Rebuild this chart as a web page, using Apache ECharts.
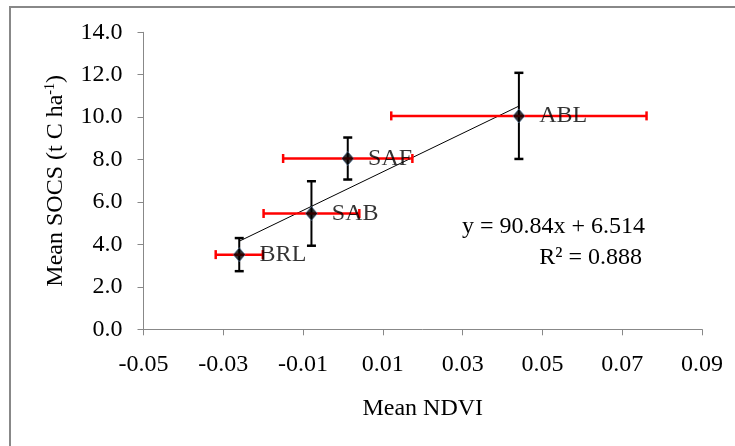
<!DOCTYPE html>
<html>
<head>
<meta charset="utf-8">
<script src="https://cdn.jsdelivr.net/npm/echarts@6/dist/echarts.min.js"></script>
<style>html,body{margin:0;padding:0;background:#fff}#c{width:735px;height:446px}</style>
</head>
<body>
<div id="c"></div>
<script>
// ---- data ----
const siteNames = ['BRL', 'SAB', 'SAF', 'ABL'];
const meanNdvi  = [-0.0260, -0.0079, 0.0012, 0.0441];
const meanSocs  = [3.52, 5.46, 8.05, 10.06];
const socsErr   = [0.78, 1.52, 0.99, 2.03];
const ndviErr   = [0.0059, 0.0120, 0.0162, 0.0320];
const trendX    = [-0.0258, 0.0442];
const trendY    = [4.17, 10.53];
const xTicks    = [-0.05, -0.03, -0.01, 0.01, 0.03, 0.05, 0.07, 0.09];
const eqText    = 'y = 90.84x + 6.514';
const r2Text    = 'R\u00B2 = 0.888';

const FONT = '"Liberation Serif", "Times New Roman", serif';
const FS = 24;
const chart = echarts.init(document.getElementById('c'));

function vBars(params, api) {
  const x = api.value(0), y = api.value(1), e = api.value(2);
  const t = api.coord([x, y + e]), b = api.coord([x, y - e]);
  const c = 4.5;
  return {type: 'group', children: [
    {type: 'line', shape: {x1: t[0], y1: t[1], x2: b[0], y2: b[1]}, style: {stroke: '#000', lineWidth: 2}},
    {type: 'line', shape: {x1: t[0] - c, y1: t[1], x2: t[0] + c, y2: t[1]}, style: {stroke: '#000', lineWidth: 2.5}},
    {type: 'line', shape: {x1: b[0] - c, y1: b[1], x2: b[0] + c, y2: b[1]}, style: {stroke: '#000', lineWidth: 2.5}}
  ]};
}
function hBars(params, api) {
  const x = api.value(0), y = api.value(1), e = api.value(2);
  const l = api.coord([x - e, y]), r = api.coord([x + e, y]);
  const c = 4.5, st = {stroke: '#ff0000', lineWidth: 2.5};
  return {type: 'group', children: [
    {type: 'line', shape: {x1: l[0], y1: l[1], x2: r[0], y2: r[1]}, style: st},
    {type: 'line', shape: {x1: l[0], y1: l[1] - c, x2: l[0], y2: l[1] + c}, style: st},
    {type: 'line', shape: {x1: r[0], y1: r[1] - c, x2: r[0], y2: r[1] + c}, style: st}
  ]};
}

const option = {
  animation: false,
  backgroundColor: '#fff',
  grid: {left: 143.5, right: 33, top: 32.3, bottom: 116.7, containLabel: false},
  xAxis: {
    type: 'value', min: -0.05, max: 0.09,
    name: 'Mean NDVI', nameLocation: 'middle', nameGap: 67,
    nameTextStyle: {fontFamily: FONT, fontSize: FS, color: '#000'},
    axisLine: {show: true, lineStyle: {color: '#888', width: 1}},
    axisTick: {show: true, length: 6, lineStyle: {color: '#888'}, customValues: xTicks},
    axisLabel: {fontFamily: FONT, fontSize: FS, color: '#000', margin: 23,
      customValues: xTicks, formatter: v => v.toFixed(2)},
    splitLine: {show: false}
  },
  yAxis: {
    type: 'value', min: 0, max: 14, interval: 2,
    name: 'Mean SOCS (t C ha{sup|-1})', nameLocation: 'middle', nameGap: 76, nameRotate: 90,
    nameTextStyle: {fontFamily: FONT, fontSize: FS, color: '#000',
      rich: {sup: {fontFamily: FONT, fontSize: 14, color: '#000', verticalAlign: 'top', lineHeight: 14, padding: [0, 0, 8, 0]}}},
    axisLine: {show: true, onZero: false, lineStyle: {color: '#888', width: 1}},
    axisTick: {show: true, length: 6, lineStyle: {color: '#888'}},
    axisLabel: {fontFamily: FONT, fontSize: FS, color: '#000', margin: 21,
      formatter: v => v.toFixed(1)},
    splitLine: {show: false}
  },
  series: [
    {type: 'line', data: trendX.map((x, i) => [x, trendY[i]]), symbol: 'none',
      lineStyle: {color: '#000', width: 1}, z: 2, silent: true},
    {type: 'custom', renderItem: vBars, data: meanNdvi.map((x, i) => [x, meanSocs[i], socsErr[i]]),
      encode: {x: 0, y: 1}, z: 3, silent: true, clip: false},
    {type: 'custom', renderItem: hBars, data: meanNdvi.map((x, i) => [x, meanSocs[i], ndviErr[i]]),
      encode: {x: 0, y: 1}, z: 4, silent: true, clip: false},
    {type: 'scatter', symbol: 'diamond', symbolSize: [12, 14], z: 5,
      itemStyle: {color: '#000', borderColor: '#5a7fa8', borderWidth: 0.8},
      data: meanNdvi.map((x, i) => ({name: siteNames[i], value: [x, meanSocs[i]]})),
      label: {show: true, position: 'right', distance: 14, formatter: '{b}',
        fontFamily: FONT, fontSize: FS, color: '#000'}}
  ],
  graphic: [
    {type: 'rect', shape: {x: 10, y: 7, width: 740, height: 460}, style: {fill: 'none', stroke: '#888', lineWidth: 2}, silent: true},
    {type: 'text', x: 645, y: 227, style: {text: eqText, font: FS + 'px ' + FONT, fill: '#000', align: 'right', verticalAlign: 'middle', textAlign: 'right', textVerticalAlign: 'middle'}},
    {type: 'text', x: 642, y: 258, style: {text: r2Text, font: FS + 'px ' + FONT, fill: '#000', align: 'right', verticalAlign: 'middle', textAlign: 'right', textVerticalAlign: 'middle'}}
  ]
};
chart.setOption(option);
</script>
</body>
</html>
